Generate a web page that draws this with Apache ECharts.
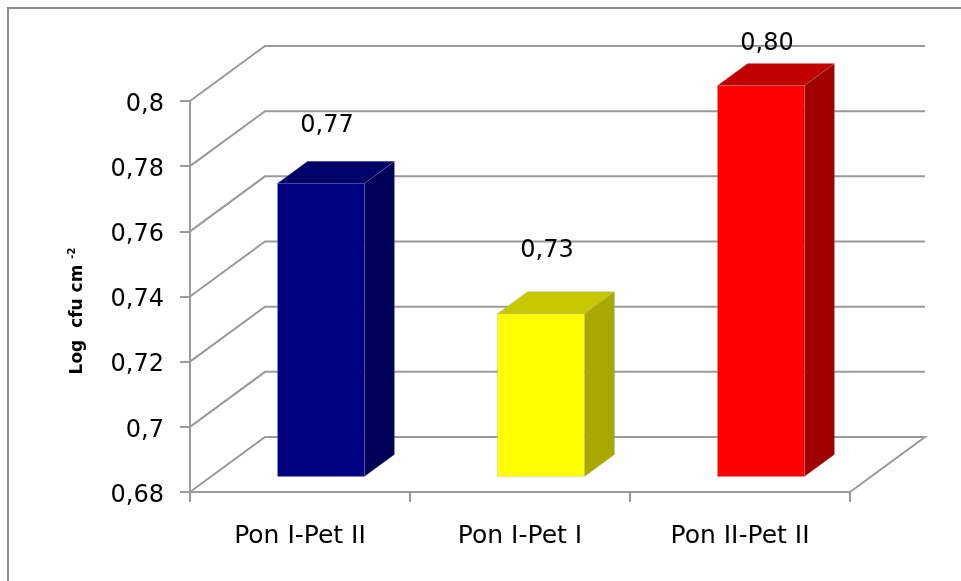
<!DOCTYPE html>
<html lang="en">
<head>
    <meta charset="utf-8" />
    <title>Log cfu cm-2</title>
    <script type="text/javascript" src="https://cdn.jsdelivr.net/npm/echarts@6/dist/echarts.min.js"></script>
    <style type="text/css">
        html, body { margin: 0; padding: 0; background: #fff; }
    </style>
</head>
<body>
    <div id="main" style="width:961px;height:581px;"></div>
    <script type="text/javascript">
        // data
        var categories = ['Pon I-Pet II', 'Pon I-Pet I', 'Pon II-Pet II'];
        var values = [0.77, 0.73, 0.80];
        var valueLabels = ['0,77', '0,73', '0,80'];
        var yTicks = [0.68, 0.70, 0.72, 0.74, 0.76, 0.78, 0.80];

        var yMin = 0.68, yMax = 0.80, yStep = 0.02;

        // pseudo 3d look
        var depthX = 75, depthY = -55;
        var frontColors = ['#000080', '#ffff00', '#ff0000'];
        var topColors = ['#00006b', '#c8c800', '#c00000'];
        var sideColors = ['#000058', '#a8a800', '#a00000'];
        var labelLift = [58, 63, 42];
        var gridColor = '#9a9a9a';
        var font = 'DejaVu Sans';

        var myChart = echarts.init(document.getElementById('main'));

        function wallLines(params, api) {
            var cs = params.coordSys;
            var v = api.value(0);
            var y = api.coord([0, v])[1];
            var left = cs.x, right = cs.x + cs.width;
            var pts = [[left, y], [left + depthX, y + depthY], [right + depthX, y + depthY]];
            if (v === yMin) {
                pts.push([right, y]);
            }
            return {
                type: 'polyline',
                shape: { points: pts },
                style: { stroke: gridColor, lineWidth: 2, fill: null }
            };
        }

        function bar3d(params, api) {
            var i = api.value(0);
            var v = api.value(1);
            var base = api.coord([i, yMin]);
            var top = api.coord([i, v]);
            var band = api.size([1, 0])[0];
            var w = band * 0.395;
            var ox = depthX * 0.28, oy = depthY * 0.28;
            var dx = depthX * 0.4, dy = depthY * 0.4;
            var x0 = base[0] - w / 2 + ox, x1 = x0 + w;
            var yt = top[1] + oy, yb = base[1] + oy;
            var edge = 'rgba(150,150,150,0.5)';
            return {
                type: 'group',
                children: [
                    {
                        type: 'polygon',
                        shape: { points: [[x1, yt], [x1 + dx, yt + dy], [x1 + dx, yb + dy], [x1, yb]] },
                        style: { fill: sideColors[i], stroke: edge, lineWidth: 0.5 }
                    },
                    {
                        type: 'polygon',
                        shape: { points: [[x0, yt], [x1, yt], [x1 + dx, yt + dy], [x0 + dx, yt + dy]] },
                        style: { fill: topColors[i], stroke: edge, lineWidth: 0.5 }
                    },
                    {
                        type: 'rect',
                        shape: { x: x0, y: yt, width: w, height: yb - yt },
                        style: { fill: frontColors[i], stroke: edge, lineWidth: 0.5 }
                    },
                    {
                        type: 'text',
                        x: (x0 + x1) / 2 + 6,
                        y: yt - labelLift[i],
                        style: {
                            text: valueLabels[i],
                            fill: '#000',
                            font: '24px "' + font + '"',
                            align: 'center',
                            verticalAlign: 'middle'
                        }
                    }
                ]
            };
        }

        var barData = [];
        for (var k = 0; k < values.length; k++) {
            barData.push([k, values[k]]);
        }

        var option = {
            animation: false,
            textStyle: { fontFamily: font },
            grid: { left: 190, right: 111, top: 101, bottom: 89 },
            graphic: [
                {
                    type: 'rect',
                    shape: { x: 8, y: 8, width: 1000, height: 1000 },
                    style: { fill: null, stroke: '#8c8c8c', lineWidth: 2 }
                },
                {
                    type: 'text',
                    x: 78,
                    y: 311,
                    rotation: Math.PI / 2,
                    style: {
                        text: '{a|Log  cfu cm }{b|-2}',
                        align: 'center',
                        verticalAlign: 'middle',
                        fill: '#000',
                        rich: {
                            a: { fontFamily: font, fontSize: 17, fontWeight: 'bold', lineHeight: 22 },
                            b: { fontFamily: font, fontSize: 10, fontWeight: 'bold', verticalAlign: 'top', lineHeight: 12 }
                        }
                    }
                }
            ],
            xAxis: {
                type: 'category',
                data: categories,
                axisLine: { lineStyle: { color: gridColor, width: 2 } },
                axisTick: { show: true, length: 10, lineStyle: { color: gridColor, width: 2 } },
                axisLabel: { color: '#000', fontSize: 25, margin: 32, fontFamily: font },
                splitLine: { show: false }
            },
            yAxis: {
                type: 'value',
                min: yMin,
                max: yMax,
                interval: yStep,
                axisLine: { show: true, lineStyle: { color: gridColor, width: 2 } },
                axisTick: { show: true, length: 10, lineStyle: { color: gridColor, width: 2 } },
                axisLabel: {
                    color: '#000',
                    margin: 26,
                    formatter: function (v) { return '{n|' + String(+v.toFixed(2)).replace('.', ',') + '}'; },
                    rich: {
                        n: { fontFamily: font, fontSize: 24, color: '#000', padding: [7, 0, 0, 0] }
                    }
                },
                splitLine: { show: false }
            },
            series: [
                {
                    type: 'custom',
                    name: 'walls',
                    renderItem: wallLines,
                    data: yTicks.map(function (t) { return [t]; }),
                    encode: { y: 0 },
                    clip: false,
                    silent: true,
                    z: 1
                },
                {
                    type: 'custom',
                    name: 'Log cfu cm-2',
                    renderItem: bar3d,
                    data: barData,
                    encode: { x: 0, y: 1 },
                    clip: false,
                    z: 3
                }
            ]
        };
        myChart.setOption(option);
    </script>
</body>
</html>
